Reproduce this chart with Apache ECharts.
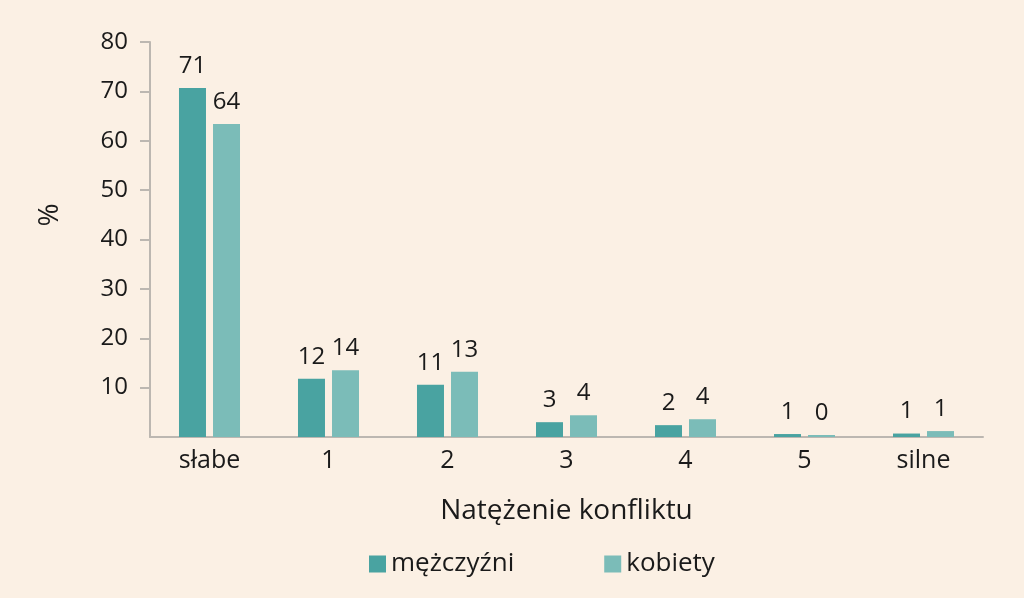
<!DOCTYPE html>
<html><head><meta charset="utf-8">
<script src="https://cdn.jsdelivr.net/npm/echarts@6/dist/echarts.min.js"></script>
<style>html,body{margin:0;padding:0;background:#fbf0e4;}#c{width:1024px;height:598px;}</style>
</head><body><div id="c"></div>
<script>
const categories = ['słabe', '1', '2', '3', '4', '5', 'silne'];
const men = [70.7, 11.8, 10.6, 3.0, 2.4, 0.6, 0.7];
const menLabels = [71, 12, 11, 3, 2, 1, 1];
const women = [63.4, 13.5, 13.2, 4.4, 3.6, 0.4, 1.2];
const womenLabels = [64, 14, 13, 4, 4, 0, 1];
const yTicks = [10, 20, 30, 40, 50, 60, 70, 80];
const seriesNames = ['mężczyźni', 'kobiety'];
const yName = '%';
const xName = 'Natężenie konfliktu';

const font = 'Open Sans';
const chart = echarts.init(document.getElementById('c'));
chart.setOption({
  backgroundColor: '#fbf0e4',
  textStyle: { fontFamily: font, color: '#1a1a1a' },
  grid: { left: 150, right: 41, top: 42, bottom: 161 },
  legend: {
    bottom: 16, left: 364, itemWidth: 17, itemHeight: 17, itemGap: 90,
    icon: 'rect',
    textStyle: { fontFamily: font, fontSize: 26, color: '#1a1a1a' },
    data: seriesNames
  },
  graphic: [{
    type: 'text', x: 50, y: 215, rotation: Math.PI / 2,
    style: { text: yName, fontFamily: font, fontSize: 28, fill: '#1a1a1a', align: 'center', verticalAlign: 'middle' }
  }],
  xAxis: {
    type: 'category', data: categories,
    name: xName, nameLocation: 'middle', nameGap: 60,
    nameTextStyle: { fontFamily: font, fontSize: 28, color: '#1a1a1a' },
    axisLine: { lineStyle: { color: '#bcb7b1', width: 2 } },
    axisTick: { show: false },
    axisLabel: { fontFamily: font, fontSize: 25, color: '#1a1a1a', margin: 11 }
  },
  yAxis: {
    type: 'value', min: 0, max: 80, interval: 10,
    axisLine: { show: true, lineStyle: { color: '#bcb7b1', width: 2 } },
    axisTick: { show: true, length: 10, customValues: yTicks, lineStyle: { color: '#bcb7b1', width: 2 } },
    axisLabel: { fontFamily: font, fontSize: 24, color: '#1a1a1a', margin: 22, customValues: yTicks },
    splitLine: { show: false }
  },
  series: [
    {
      name: seriesNames[0], type: 'bar', data: men, barWidth: 27, barGap: '26%',
      itemStyle: { color: '#49a3a1' },
      label: { show: true, position: 'top', distance: 10, fontFamily: font, fontSize: 24, color: '#1a1a1a',
        formatter: p => String(menLabels[p.dataIndex]) }
    },
    {
      name: seriesNames[1], type: 'bar', data: women, barWidth: 27,
      itemStyle: { color: '#7bbcb8' },
      label: { show: true, position: 'top', distance: 10, fontFamily: font, fontSize: 24, color: '#1a1a1a',
        formatter: p => String(womenLabels[p.dataIndex]) }
    }
  ]
});
</script></body></html>
